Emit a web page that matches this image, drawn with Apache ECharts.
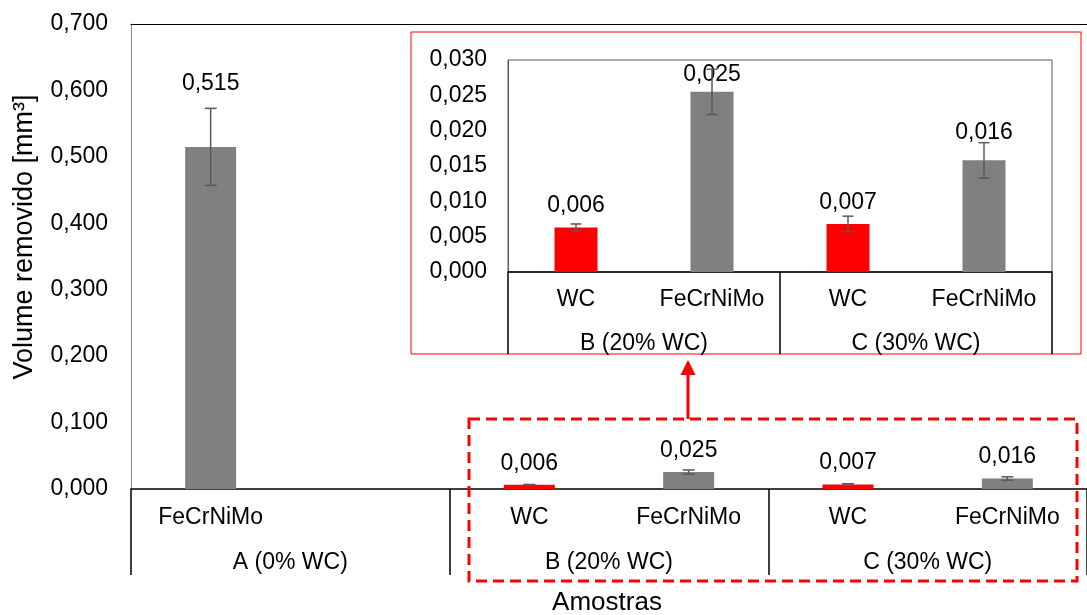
<!DOCTYPE html>
<html>
<head>
<meta charset="utf-8">
<script src="https://cdn.jsdelivr.net/npm/echarts@6/dist/echarts.min.js"></script>
<style>
html,body{margin:0;padding:0;background:#fff;}
#chart{width:1087px;height:615px;}
</style>
</head>
<body>
<div id="chart"></div>
<script>
// ---- data ----
const mainCategories = ['FeCrNiMo', '', 'WC', 'FeCrNiMo', 'WC', 'FeCrNiMo'];
const mainGroups = ['A (0% WC)', 'B (20% WC)', 'C (30% WC)'];
const mainValues = [0.515, null, 0.0063, 0.0255, 0.0068, 0.0158];
const mainErrors = [0.058, null, 0.0005, 0.0032, 0.0011, 0.0025];
const mainYTicks = { min: 0, max: 0.7, interval: 0.1 };

const insetCategories = ['WC', 'FeCrNiMo', 'WC', 'FeCrNiMo'];
const insetGroups = ['B (20% WC)', 'C (30% WC)'];
const insetValues = [0.0063, 0.0255, 0.0068, 0.0158];
const insetErrors = [0.0005, 0.0032, 0.0011, 0.0025];
const insetYTicks = { min: 0, max: 0.03, interval: 0.005 };

const yTitle = 'Volume removido [mm³]';
const xTitle = 'Amostras';

// ---- styling ----
const FONT = "'Liberation Sans', Arial, sans-serif";
const FS = 23;
const RED = '#ff0000';
const GRAY = '#808080';
const colorFor = c => (c === 'WC' ? RED : GRAY);
const fmt = v => (v == null ? '' : Number(v).toFixed(3).replace('.', ','));

function barData(cats, vals, overrides) {
  return vals.map((v, i) => {
    const item = { value: v, itemStyle: { color: colorFor(cats[i]) } };
    if (overrides && overrides[i]) Object.assign(item, overrides[i]);
    return item;
  });
}
function errData(vals, errs) {
  const out = [];
  vals.forEach((v, i) => { if (v != null && errs[i] != null) out.push([i, v - errs[i], v + errs[i]]); });
  return out;
}
function errRender(capHalf) {
  return function (params, api) {
    const x = api.value(0);
    const pLo = api.coord([x, api.value(1)]);
    const pHi = api.coord([x, api.value(2)]);
    const style = { stroke: '#595959', lineWidth: 1.5 };
    return {
      type: 'group',
      children: [
        { type: 'line', shape: { x1: pHi[0], y1: pHi[1], x2: pLo[0], y2: pLo[1] }, style },
        { type: 'line', shape: { x1: pHi[0] - capHalf, y1: pHi[1], x2: pHi[0] + capHalf, y2: pHi[1] }, style },
        { type: 'line', shape: { x1: pLo[0] - capHalf, y1: pLo[1], x2: pLo[0] + capHalf, y2: pLo[1] }, style }
      ]
    };
  };
}
const labelStyle = { show: true, position: 'top', distance: 10, fontSize: FS, color: '#000', fontFamily: FONT,
  formatter: p => fmt(p.value) };

const chart = echarts.init(document.getElementById('chart'), null, { renderer: 'canvas' });
const option = {
  animation: false,
  backgroundColor: '#fff',
  textStyle: { fontFamily: FONT },
  grid: [
    { left: 131, top: 24, width: 962, height: 465 },
    { left: 508, top: 60, width: 544, height: 212, show: true, borderColor: '#595959', borderWidth: 1, backgroundColor: '#fff', z: 5 }
  ],
  xAxis: [
    { gridIndex: 0, type: 'category', data: mainCategories, position: 'bottom',
      axisLine: { lineStyle: { color: '#000', width: 1.5 } }, axisTick: { show: false },
      axisLabel: { interval: 0, fontSize: FS, color: '#000', margin: 17 } },
    { gridIndex: 0, type: 'category', data: mainGroups, position: 'bottom',
      axisLine: { show: false },
      axisTick: { show: true, length: 86, lineStyle: { color: '#000', width: 1.5 } },
      axisLabel: { interval: 0, fontSize: FS, color: '#000', margin: 62 } },
    { gridIndex: 0, type: 'category', data: mainCategories, position: 'top',
      axisLine: { lineStyle: { color: '#000', width: 1.2 } }, axisTick: { show: false }, axisLabel: { show: false } },
    { gridIndex: 1, type: 'category', data: insetCategories, position: 'bottom', z: 6,
      axisLine: { lineStyle: { color: '#000', width: 1.5 } }, axisTick: { show: false },
      axisLabel: { interval: 0, fontSize: FS, color: '#000', margin: 16 } },
    { gridIndex: 1, type: 'category', data: insetGroups, position: 'bottom', z: 6,
      axisLine: { show: false },
      axisTick: { show: true, length: 82, lineStyle: { color: '#000', width: 1.5 } },
      axisLabel: { interval: 0, fontSize: FS, color: '#000', margin: 60 } }
  ],
  yAxis: [
    { gridIndex: 0, type: 'value', min: mainYTicks.min, max: mainYTicks.max, interval: mainYTicks.interval,
      axisLine: { show: true, lineStyle: { color: '#868686', width: 1 } }, axisTick: { show: false },
      splitLine: { show: false },
      axisLabel: { fontSize: FS, color: '#000', margin: 23, formatter: fmt } },
    { gridIndex: 1, type: 'value', min: insetYTicks.min, max: insetYTicks.max, interval: insetYTicks.interval, z: 6,
      axisLine: { show: true, lineStyle: { color: '#595959', width: 1 } }, axisTick: { show: false },
      splitLine: { show: false },
      axisLabel: { fontSize: FS, color: '#000', margin: 21, formatter: fmt } }
  ],
  series: [
    { type: 'bar', xAxisIndex: 0, yAxisIndex: 0, barWidth: 51,
      data: barData(mainCategories, mainValues, { 0: { label: { distance: 52 } } }),
      label: labelStyle },
    { type: 'custom', xAxisIndex: 0, yAxisIndex: 0, renderItem: errRender(6), data: errData(mainValues, mainErrors), z: 3 },
    { type: 'bar', xAxisIndex: 3, yAxisIndex: 1, barWidth: 43, z: 7,
      data: barData(insetCategories, insetValues, {
        1: { label: { distance: 6 } },
        3: { label: { distance: 16 } }
      }),
      label: labelStyle },
    { type: 'custom', xAxisIndex: 3, yAxisIndex: 1, renderItem: errRender(5.5), data: errData(insetValues, insetErrors), z: 8 }
  ],
  graphic: [
    { type: 'rect', z: 1, shape: { x: 411, y: 32, width: 670, height: 322 },
      style: { fill: '#fff', stroke: RED, lineWidth: 1 } },
    { type: 'rect', z: 10, shape: { x: 469, y: 419, width: 608, height: 162 },
      style: { fill: 'none', stroke: RED, lineWidth: 3, lineDash: [11, 6] } },
    { type: 'line', z: 10, shape: { x1: 688, y1: 419, x2: 688, y2: 372 },
      style: { stroke: RED, lineWidth: 3 } },
    { type: 'polygon', z: 10, shape: { points: [[688, 360], [680.5, 375], [695.5, 375]] },
      style: { fill: RED } },
    { type: 'text', z: 10, x: 25, y: 237, rotation: Math.PI / 2,
      style: { text: yTitle, fontSize: 27, fill: '#000', fontFamily: FONT, textAlign: 'center', textVerticalAlign: 'middle' } },
    { type: 'text', z: 10, x: 607, y: 603,
      style: { text: xTitle, fontSize: 26, fill: '#000', fontFamily: FONT, textAlign: 'center', textVerticalAlign: 'middle' } }
  ]
};
chart.setOption(option);
</script>
</body>
</html>
